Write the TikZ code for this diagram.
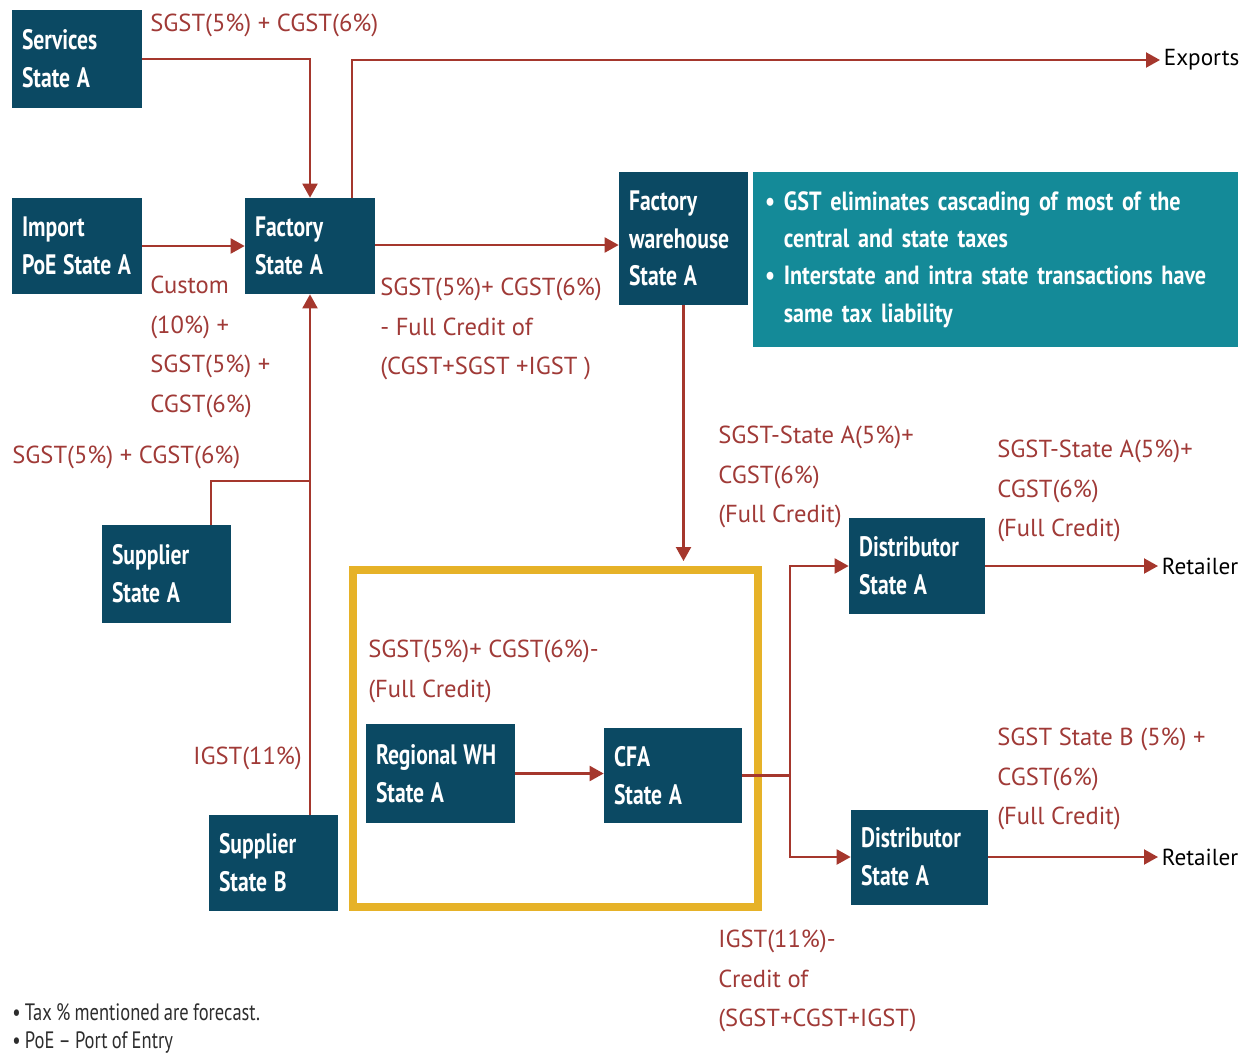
\documentclass[tikz,border=0pt]{standalone}
\usepackage{fontspec}
\setmainfont{PT Sans}
\newfontfamily\boxsans{PT Sans Bold}[FakeStretch=0.77, WordSpace=1.2]
\newfontfamily\notesans{PT Sans Bold}[FakeStretch=0.84]
\newfontfamily\footsans{PT Sans}[FakeStretch=0.78, WordSpace=0.85]
\usetikzlibrary{arrows.meta,calc}

\definecolor{boxblue}{RGB}{11,73,99}
\definecolor{noteteal}{RGB}{20,138,152}
\definecolor{flowred}{RGB}{165,55,45}
\definecolor{taxred}{RGB}{160,58,55}
\definecolor{zoneyellow}{RGB}{230,178,40}
\definecolor{footgrey}{RGB}{45,45,45}

\newcommand\boxfont{\boxsans\fontsize{16}{21.5}\selectfont}
\newcommand\notefont{\notesans\fontsize{15}{21.3}\selectfont}
\newcommand\taxfont{\fontsize{14}{22.5}\selectfont}
\newcommand\destfont{\fontsize{13.2}{16}\selectfont}
\newcommand\footfont{\footsans\fontsize{13.5}{16}\selectfont}

\begin{document}
\begin{tikzpicture}[
  x=0.02cm, y=-0.02cm,
  entity/.style={fill=boxblue, text=white, font=\boxfont, align=flush left,
                 inner xsep=0.2cm, inner ysep=0pt},
  tax/.style={font=\taxfont, text=taxred, align=left, inner sep=0pt, anchor=north west},
  dest/.style={font=\destfont, text=black, inner sep=2pt, anchor=west},
  foot/.style={font=\footfont, text=footgrey, anchor=west, inner sep=0pt},
  ln/.style={draw=flowred, line width=1.2pt},
  arr/.style={ln, -{Triangle[length=0.28cm,width=0.3cm]}},
]
% canvas
\path[use as bounding box, fill=white] (0,0) rectangle (1249,1059);

% entity boxes
\node[entity, minimum width=2.6cm, minimum height=1.96cm, text width=2.2cm] (svc) at (77,59) {Services\\State A};
\node[entity, minimum width=2.6cm, minimum height=1.92cm, text width=2.2cm] (imp) at (77,246) {Import\\PoE State A};
\node[entity, minimum width=2.6cm, minimum height=1.92cm, text width=2.2cm] (fac) at (310,246) {Factory\\State A};
\node[entity, minimum width=2.58cm, minimum height=2.66cm, text width=2.18cm] (fwh) at (683.5,238.5) {Factory\\warehouse\\State A};
\node[entity, minimum width=2.58cm, minimum height=1.96cm, text width=2.18cm] (supA) at (166.5,574) {Supplier\\State A};
\node[entity, minimum width=2.58cm, minimum height=1.92cm, text width=2.18cm] (supB) at (273.5,863) {Supplier\\State B};
\node[entity, minimum width=2.98cm, minimum height=1.98cm, text width=2.58cm] (rwh) at (440.5,773.5) {Regional WH\\State A};
\node[entity, minimum width=2.76cm, minimum height=1.9cm, text width=2.36cm] (cfa) at (673,775.5) {CFA\\State A};
\node[entity, minimum width=2.72cm, minimum height=1.92cm, text width=2.32cm] (d1) at (917,566) {Distributor\\State A};
\node[entity, minimum width=2.74cm, minimum height=1.9cm, text width=2.34cm] (d2) at (919.5,857) {Distributor\\State A};

% key message panel
\node[fill=noteteal, text=white, font=\notefont, align=left, inner xsep=0.24cm, inner ysep=0pt,
      minimum width=9.7cm, minimum height=3.5cm, text width=9.22cm] (note) at (995.5,259.5)
  {• GST eliminates cascading of most of the\\
   \hphantom{• }central and state taxes\\
   • Interstate and intra state transactions have\\
   \hphantom{• }same tax liability};

% regional distribution zone
\node[draw=zoneyellow, line width=0.16cm, minimum width=8.1cm, minimum height=6.74cm, inner sep=0pt]
  (zone) at (555.5,738.5) {};

% destinations
\node[dest] (exp) at (1160,60) {Exports};
\node[dest] (r1) at (1158,566) {Retailer};
\node[dest] (r2) at (1158,857) {Retailer};

% junctions
\coordinate (jA) at (310,481);
\coordinate (split) at (790,775.5);

% flows
\draw[arr] (svc.east) -| (fac.north);
\draw[arr] ($(fac.north)+(42,0)$) |- (exp.west);
\draw[arr] (imp.east) -- (fac.west);
\draw[arr] (fac.east |- 0,245) -- (fwh.west |- 0,245);
\draw[arr] (fwh.south) -- ($(fwh.south |- zone.north)+(0,-5)$);
\draw[arr] (fac.south |- supB.north) -- (fac.south);
\draw[ln] ($(supA.north)+(44.5,0)$) |- (jA);
\draw[arr] (rwh.east) -- (rwh.east -| cfa.west);
\draw[ln] (cfa.east) -- (split);
\draw[arr] (split) |- (d1.west);
\draw[arr] (split) |- (d2.west);
\draw[arr] (d1.east) -- (r1.west);
\draw[arr] (d2.east) -- (r2.west);

% tax labels
\node[tax] (t1) at (150,14) {SGST(5\%) + CGST(6\%)};
\node[tax] (t2) at (150,276) {Custom\\(10\%) +\\SGST(5\%) +\\CGST(6\%)};
\node[tax] (t3) at (12,446) {SGST(5\%) + CGST(6\%)};
\node[tax] (t4) at (380,278) {SGST(5\%)+ CGST(6\%)\\- Full Credit of\\(CGST+SGST +IGST )};
\node[tax] (t5) at (718,426) {SGST-State A(5\%)+\\CGST(6\%)\\(Full Credit)};
\node[tax] (t6) at (997,440) {SGST-State A(5\%)+\\CGST(6\%)\\(Full Credit)};
\node[tax] (t7) at (368,640) {SGST(5\%)+ CGST(6\%)-\\(Full Credit)};
\node[tax] (t8) at (193,747) {IGST(11\%)};
\node[tax] (t9) at (997,728) {SGST State B (5\%) +\\CGST(6\%)\\(Full Credit)};
\node[tax] (t10) at (718,930) {IGST(11\%)-\\Credit of\\(SGST+CGST+IGST)};

% footnotes
\node[foot] (fn1) at (12,1012) {• Tax \% mentioned are forecast.};
\node[foot] (fn2) at (12,1043) {• PoE – Port of Entry};
\end{tikzpicture}
\end{document}
